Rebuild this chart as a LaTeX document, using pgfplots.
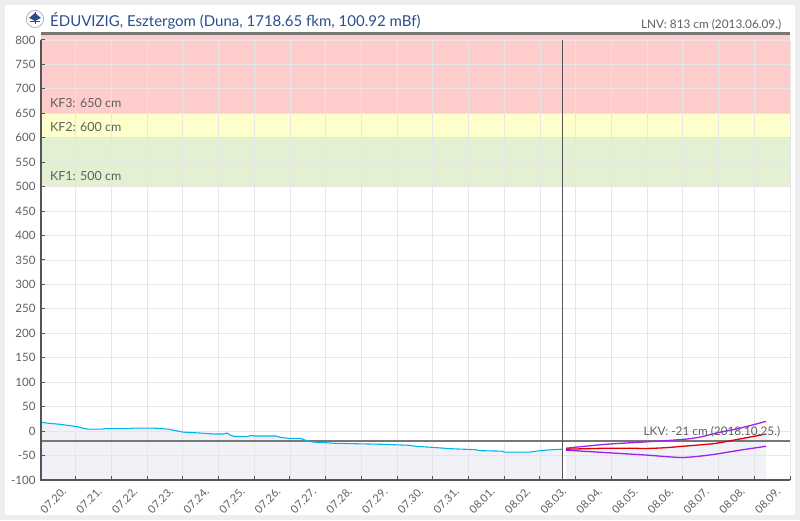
\documentclass[border=0pt]{standalone}
\usepackage{fontspec}
\setmainfont{Lato}
\usepackage{pgfplots}
\pgfplotsset{compat=1.18}
\definecolor{bgc}{HTML}{EEEEEE}
\definecolor{gridc}{HTML}{E6E6E6}
\definecolor{axisc}{HTML}{555555}
\definecolor{labc}{HTML}{606060}
\definecolor{titlec}{HTML}{2B4F8E}
\definecolor{band3}{HTML}{FFCCCC}
\definecolor{band2}{HTML}{FFFFCC}
\definecolor{band1}{HTML}{E4F0D2}
\definecolor{fillc}{HTML}{E4E7F0}
\definecolor{measc}{HTML}{00B4F0}
\definecolor{purc}{HTML}{A020F0}
\definecolor{redc}{HTML}{E00000}
\definecolor{limc}{HTML}{777777}

\pgfplotstableread{
x y
-0.97 18
-0.75 16
-0.45 14
-0.15 11
0.05 9
0.2 6
0.35 4
0.75 4
0.8 5
1.5 5
1.6 6
2.2 6
2.6 4
2.8 1
3.0 -2
3.5 -4
3.9 -6
4.1 -6
4.25 -4
4.35 -9
4.45 -11
4.8 -11
4.9 -9
5.0 -10
5.6 -10
5.75 -13
6.0 -15
6.3 -15
6.4 -18
6.6 -22
6.8 -23
7.3 -25
8.6 -27
9.35 -29
9.5 -31
9.95 -33
10.5 -36
11.2 -38
11.3 -40
11.95 -41
12.0 -43
12.7 -43
12.8 -42
13.0 -40
13.35 -38
13.63 -37
}\meas

\pgfplotstableread{
x y
13.73 -37
14.3 -36
14.85 -35
15.5 -35
15.97 -35.5
16.5 -34
17.0 -31
17.5 -28
17.93 -25
18.6 -16
19.33 -6
}\fcmid

\pgfplotstableread{
x y
13.73 -35
14.85 -27
15.97 -22
17.0 -17
17.5 -12
17.93 -4
18.6 6
19.33 20
}\fchigh

\pgfplotstableread{
x y
13.73 -39
14.85 -44
15.97 -49
16.5 -52
17.0 -54
17.5 -51
17.93 -47
18.6 -39
19.33 -31
}\fclow

\begin{document}
\begin{tikzpicture}[x=1pt,y=1pt]
\fill[bgc] (0,0) rectangle (800,520);
\fill[white] (5,5) rectangle (795,515);
% logo
\draw[gray!60, line width=0.8pt, fill=white] (35,501) circle (8.6);
\fill[titlec] (29,502) -- (35,507) -- (41,502) -- (35,499) -- cycle;
\fill[titlec] (30,497.5) rectangle (40,498.5);
\draw[titlec, line width=0.4pt] (35,507.5) -- (35,495.5);
\node[anchor=base west, text=titlec, font=\fontsize{15}{18}\selectfont, inner sep=0pt] at (50,493.5)
  {ÉDUVIZIG, Esztergom (Duna, 1718.65 fkm, 100.92 mBf)};

\begin{axis}[
  at={(41pt,40pt)}, anchor=south west,
  scale only axis, width=749pt, height=446.4pt,
  xmin=-0.97, xmax=20, ymin=-100, ymax=813,
  clip=false, axis on top,
  axis x line*=bottom, axis y line*=left,
  axis line style={draw=none},
  tick align=inside, major tick length=4pt,
  tick style={color=axisc, line width=1pt},
  xtick={0,...,20},
  xticklabels={07.20.,07.21.,07.22.,07.23.,07.24.,07.25.,07.26.,07.27.,07.28.,07.29.,07.30.,07.31.,08.01.,08.02.,08.03.,08.04.,08.05.,08.06.,08.07.,08.08.,08.09.},
  ytick={-100,-50,...,800},
  /pgf/number format/assume math mode=true,
  xticklabel style={font=\fontsize{11}{12}\selectfont, text=labc, xshift=-10pt, yshift=-8pt, rotate=45, anchor=east, inner sep=2pt},
  yticklabel style={font=\fontsize{11.5}{13}\selectfont, text=labc, xshift=-2pt},
]
% bands
\addplot[draw=none, fill=band3] coordinates {(-0.97,650) (20,650) (20,813) (-0.97,813)} -- cycle;
\addplot[draw=none, fill=band2] coordinates {(-0.97,600) (20,600) (20,650) (-0.97,650)} -- cycle;
\addplot[draw=none, fill=band1] coordinates {(-0.97,500) (20,500) (20,600) (-0.97,600)} -- cycle;
% grid
\pgfplotsinvokeforeach{-100,-50,...,800}{\draw[gridc, line width=0.8pt] (axis cs:-0.97,#1) -- (axis cs:20,#1);}
\pgfplotsinvokeforeach{0,...,20}{\draw[gridc, line width=0.8pt] (axis cs:#1,-100) -- (axis cs:#1,800);}
% fills
\addplot[draw=none, fill=fillc, fill opacity=0.5] table {\meas} -- (axis cs:13.63,-100) -- (axis cs:-0.97,-100) -- cycle;
\addplot[draw=none, fill=fillc, fill opacity=0.5, smooth] table {\fcmid} -- (axis cs:19.33,-100) -- (axis cs:13.73,-100) -- cycle;
% limit lines
\addplot[limc, line width=2.2pt] coordinates {(-0.97,-21) (20,-21)};
\addplot[limc, line width=2.2pt] coordinates {(-0.97,813) (20,813)};
\addplot[axisc, line width=1pt] coordinates {(13.63,-100) (13.63,800)};
% series
\addplot[measc, line width=1.1pt] table {\meas};
\addplot[purc, line width=1.3pt, smooth] table {\fchigh};
\addplot[purc, line width=1.3pt, smooth] table {\fclow};
\addplot[redc, line width=1.3pt, smooth] table {\fcmid};
% axes
\draw[axisc, line width=1.3pt] (axis cs:-0.97,800) -- (axis cs:-0.97,-100) -- (axis cs:20,-100);
% labels
\node[anchor=base west, text=labc, font=\fontsize{12.5}{14}\selectfont, inner sep=0pt] at (axis cs:-0.72,662) {KF3: 650 cm};
\node[anchor=base west, text=labc, font=\fontsize{12.5}{14}\selectfont, inner sep=0pt] at (axis cs:-0.72,612) {KF2: 600 cm};
\node[anchor=base west, text=labc, font=\fontsize{12.5}{14}\selectfont, inner sep=0pt] at (axis cs:-0.72,512) {KF1: 500 cm};
\node[anchor=base east, text=labc, font=\fontsize{11.8}{13}\selectfont, inner sep=0pt] at (axis cs:19.73,-10) {LKV: -21 cm (2018.10.25.)};
\node[anchor=base east, text=labc, font=\fontsize{11.8}{13}\selectfont, inner sep=0pt] at (axis cs:19.76,824) {LNV: 813 cm (2013.06.09.)};
\end{axis}
\end{tikzpicture}
\end{document}
